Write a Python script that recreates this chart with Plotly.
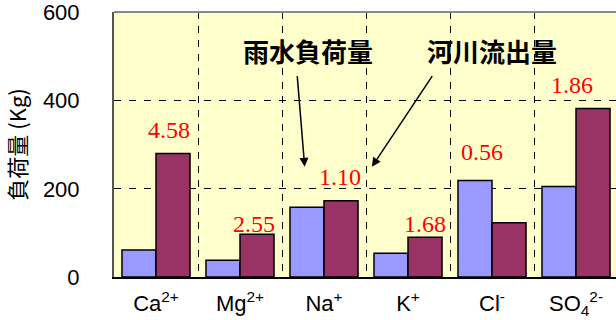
import plotly.graph_objects as go

# Ion species on the x axis (HTML sub/superscripts for charges)
ions = ["Ca<sup>2+</sup>", "Mg<sup>2+</sup>", "Na<sup>+</sup>",
        "K<sup>+</sup>", "Cl<sup>-</sup>", "SO<sub>4</sub><sup>2-</sup>"]

# Load (kg) carried in by rainfall and out by river discharge
rain_load = [61, 38, 158, 54, 219, 205]
river_load = [280, 97, 173, 90, 123, 382]

# Outflow / input ratios printed above each group
ratio_text = ["4.58", "2.55", "1.10", "1.68", "0.56", "1.86"]

# Placement of ratio labels: offset from group centre (category units), height (kg)
ratio_dx = [0.15, 0.17, 0.19, 0.20, -0.12, -0.05]
ratio_y = [334, 120, 227, 120, 284, 436]

BLUE = "#9999FF"
PLUM = "#993366"

fig = go.Figure()
fig.add_bar(x=ions, y=rain_load, name="雨水負荷量", marker=dict(color=BLUE, line=dict(color="black", width=1.5)))
fig.add_bar(x=ions, y=river_load, name="河川流出量", marker=dict(color=PLUM, line=dict(color="black", width=1.5)))

annotations = []
for i, (t, dx, y) in enumerate(zip(ratio_text, ratio_dx, ratio_y)):
    annotations.append(dict(
        x=i + dx, y=y, xref="x", yref="y", text=t, showarrow=False,
        font=dict(family="Liberation Serif", size=24, color="#FF0000"),
    ))

# Series captions with pointer arrows
jp_font = dict(family="Noto Sans CJK JP", size=26, color="black")
annotations.append(dict(x=1.77, y=250, ax=1.68, ay=459, xref="x", yref="y", axref="x", ayref="y",
                        text="", showarrow=True, arrowhead=2, arrowsize=1.2, arrowwidth=1.5, arrowcolor="black"))
annotations.append(dict(x=2.57, y=250, ax=3.30, ay=459, xref="x", yref="y", axref="x", ayref="y",
                        text="", showarrow=True, arrowhead=2, arrowsize=1.2, arrowwidth=1.5, arrowcolor="black"))
annotations.append(dict(x=1.81, y=514, xref="x", yref="y", text="<b>雨水負荷量</b>", showarrow=False, font=jp_font))
annotations.append(dict(x=4.0, y=514, xref="x", yref="y", text="<b>河川流出量</b>", showarrow=False, font=jp_font))

fig.update_layout(
    width=616, height=320,
    margin=dict(l=114, r=0, t=12, b=43, autoexpand=False),
    paper_bgcolor="white",
    plot_bgcolor="#FFFFCC",
    barmode="group",
    bargap=0.19,
    bargroupgap=0,
    showlegend=False,
    annotations=annotations,
    font=dict(family="Liberation Sans", size=22, color="black"),
    shapes=[dict(type="line", xref="paper", yref="paper", x0=0, x1=1, y0=1, y1=1,
                 line=dict(color="#888888", width=2))],
)
fig.update_xaxes(
    range=[-0.5, 5.476],
    tickson="boundaries",
    showgrid=True, gridcolor="black", gridwidth=1, griddash="7px,7px",
    ticks="", showline=True, linecolor="black", linewidth=2,
    ticklabelstandoff=6, automargin=False,
    tickfont=dict(size=22),
)
fig.update_yaxes(
    range=[0, 601], tickvals=[0, 200, 400, 600],
    showgrid=True, gridcolor="black", gridwidth=1, griddash="7px,8px",
    zeroline=False, ticks="", showline=True, linecolor="#555555", linewidth=2,
    ticklabelstandoff=28, ticklabeloverflow="allow", automargin=False,
    tickfont=dict(size=22),
    title=dict(text="負荷量 (Kg)", font=dict(family="Noto Sans CJK JP", size=22), standoff=14),
)

fig.write_html("out.html")
